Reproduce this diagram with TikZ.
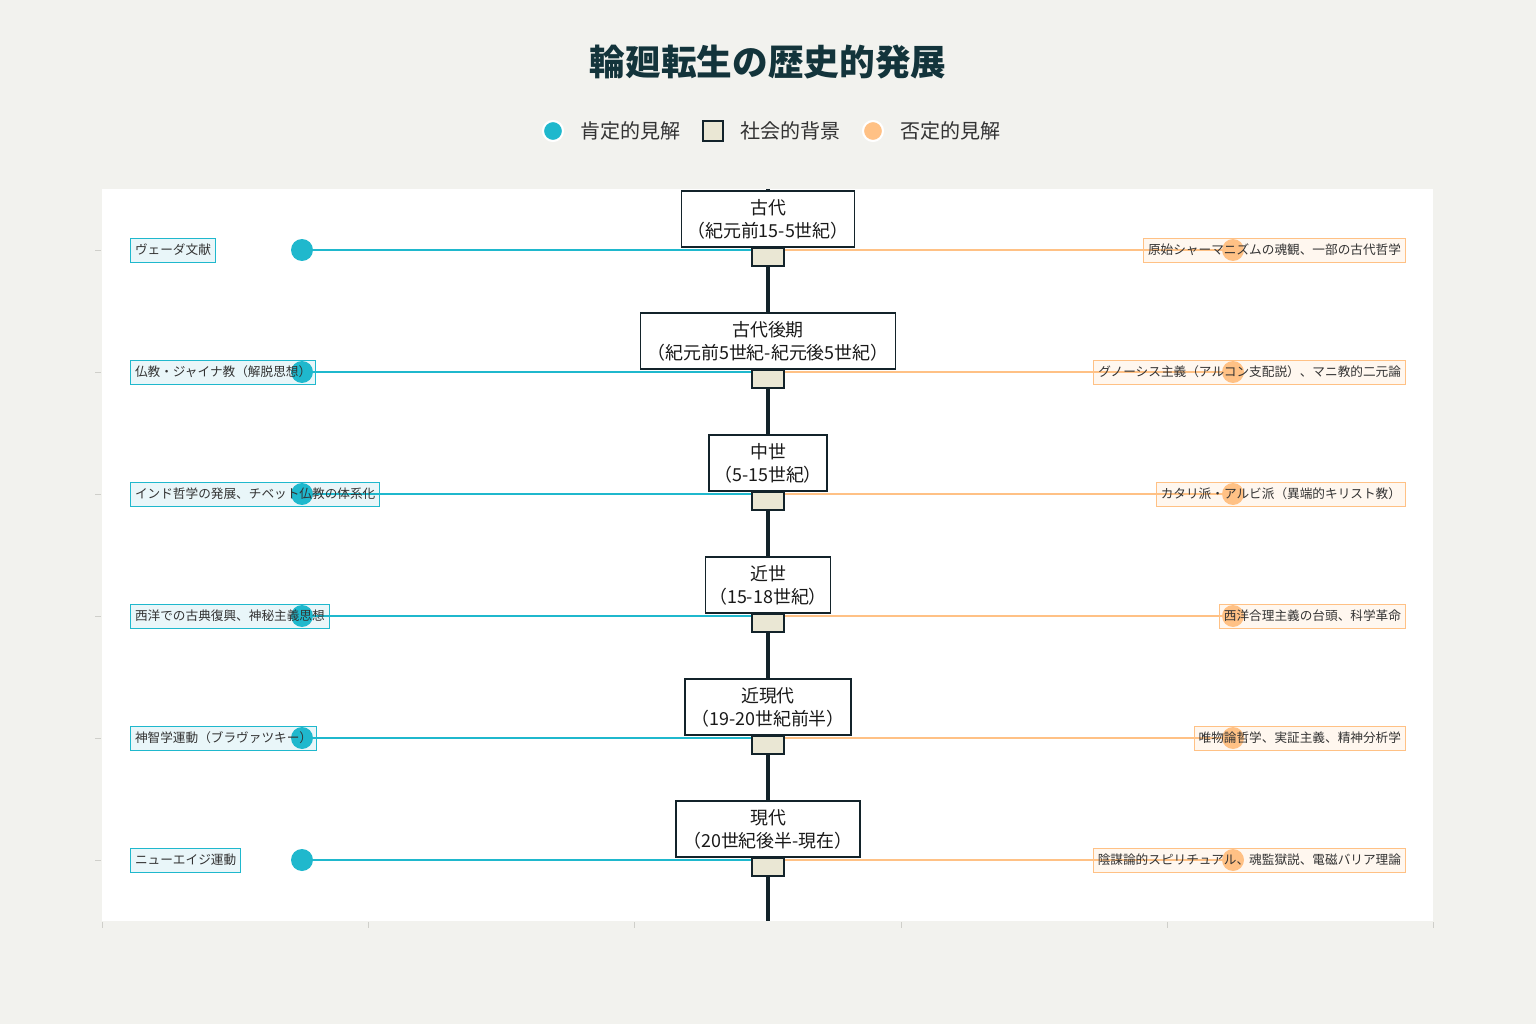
\documentclass[tikz,border=0pt]{standalone}
\usepackage{fontspec}
\setmainfont{Noto Sans CJK JP}
\usepackage{xcolor}
\usepackage{tikz}
\usetikzlibrary{calc, positioning}

\definecolor{bgc}{HTML}{F2F2EE}
\definecolor{posc}{HTML}{1FB8CD}
\definecolor{posfill}{HTML}{E9F6F9}
\definecolor{negc}{HTML}{FFC185}
\definecolor{negfill}{HTML}{FFF7EF}
\definecolor{basec}{HTML}{EAE7D4}
\definecolor{axisc}{HTML}{13232A}
\definecolor{titlec}{HTML}{13343B}
\definecolor{tickc}{HTML}{CFCFCA}
\definecolor{textc}{HTML}{333333}

\pgfdeclarelayer{bgl}
\pgfdeclarelayer{under}
\pgfsetlayers{bgl,under,main}

\tikzset{
	period/.style = {draw = axisc, fill = white, line width = 0.6pt, align = center, text = black!90,
		font = \fontsize{10.2}{13}\selectfont, minimum height = 1.12cm, inner xsep = 0.08cm},
	base/.style = {draw = axisc, fill = basec, line width = 0.9pt, minimum width = 0.64cm,
		minimum height = 0.36cm, inner sep = 0pt},
	poslabel/.style = {draw = posc, line width = 0.5pt, text = textc,
		font = \fontsize{7.2}{8}\selectfont, inner xsep = 2.6pt, minimum height = 0.48cm, anchor = west},
	neglabel/.style = {draw = negc, line width = 0.5pt, text = textc,
		font = \fontsize{7.2}{8}\selectfont, inner xsep = 2.6pt, minimum height = 0.48cm, anchor = east},
	posdot/.style = {circle, fill = posc, minimum size = 0.44cm, inner sep = 0pt},
	negdot/.style = {circle, fill = negc, minimum size = 0.44cm, inner sep = 0pt},
	posline/.style = {posc, line width = 1.15pt},
	negline/.style = {negc, line width = 1.15pt},
	legendtext/.style = {anchor = west, inner sep = 0pt, text = textc, font = \fontsize{11.4}{13}\selectfont}
}

\begin{document}
\begin{tikzpicture}[x = 0.02cm, y = -0.02cm]
		\useasboundingbox (0,0) rectangle (1536,1024);
		\begin{pgfonlayer}{bgl}
			\fill [bgc] (0,0) rectangle (1536,1024);
			%plot area
			\fill [white] (102,189) rectangle (1433,921);
		\end{pgfonlayer}
		
		\node [font = \bfseries\fontsize{20.3}{24}\selectfont, text = titlec] (title) at (768,62) {輪廻転生の歴史的発展};
		
		%legend
		\node [posdot, draw = white, line width = 1.2pt, minimum size = 0.4cm] (lgpos) at (553,131) {};
		\node [legendtext] (lgpostxt) at (580,131) {肯定的見解};
		\node [base, fill = basec, line width = 1.2pt, minimum width = 0.4cm, minimum height = 0.4cm] (lgbase) at (713,131) {};
		\node [legendtext] (lgbasetxt) at (740,131) {社会的背景};
		\node [negdot, draw = white, line width = 1.2pt, minimum size = 0.4cm] (lgneg) at (873,131) {};
		\node [legendtext] (lgnegtxt) at (900,131) {否定的見解};
		
		\foreach \x in {102, 368, 634, 901, 1167, 1433}
			\draw [tickc, line width = 0.4pt] (\x,922) -- (\x,928);
		
		\coordinate (axtop) at (768,189);
		\coordinate (axbot) at (768,921);
		\begin{pgfonlayer}{bgl}
			\draw [axisc, line width = 2.3pt] (axtop) -- (axbot);
		\end{pgfonlayer}
		
		%periods
		\foreach \i/\y/\ename/\eyrs/\bw/\plab/\nlab in {
			1/250/古代/（紀元前15-5世紀）/3.46/ヴェーダ文献/原始シャーマニズムの魂観、一部の古代哲学,
			2/372/古代後期/（紀元前5世紀-紀元後5世紀）/5.10/仏教・ジャイナ教（解脱思想）/グノーシス主義（アルコン支配説）、マニ教的二元論,
			3/494/中世/（5-15世紀）/2.36/インド哲学の発展、チベット仏教の体系化/カタリ派・アルビ派（異端的キリスト教）,
			4/616/近世/（15-18世紀）/2.50/西洋での古典復興、神秘主義思想/西洋合理主義の台頭、科学革命,
			5/738/近現代/（19-20世紀前半）/3.32/神智学運動（ブラヴァツキー）/唯物論哲学、実証主義、精神分析学,
			6/860/現代/（20世紀後半-現在）/3.68/ニューエイジ運動/陰謀論的スピリチュアル、魂監獄説、電磁バリア理論}
		{
			\draw [tickc, line width = 0.4pt] (95,\y) -- (101,\y);
			
			\node [poslabel] (pos\i) at (130,\y) {\plab};
			\node [neglabel] (neg\i) at (1406,\y) {\nlab};
			
			\node [base] (s\i) at (768,\y+7) {};
			\node [period, minimum width = \bw cm] (p\i) at (768,\y-31) {\ename\\\eyrs};
			
			\begin{pgfonlayer}{under}
				\fill [posfill] (pos\i.south west) rectangle (pos\i.north east);
				\fill [negfill] (neg\i.south west) rectangle (neg\i.north east);
				\node [posdot] (cp\i) at (302,\y) {};
				\node [negdot] (cn\i) at (1233,\y) {};
				\draw [posline] (cp\i) -- (s\i.west |- cp\i);
				\draw [negline] (s\i.east |- cn\i) -- (cn\i);
			\end{pgfonlayer}
		}
	\end{tikzpicture}
\end{document}
